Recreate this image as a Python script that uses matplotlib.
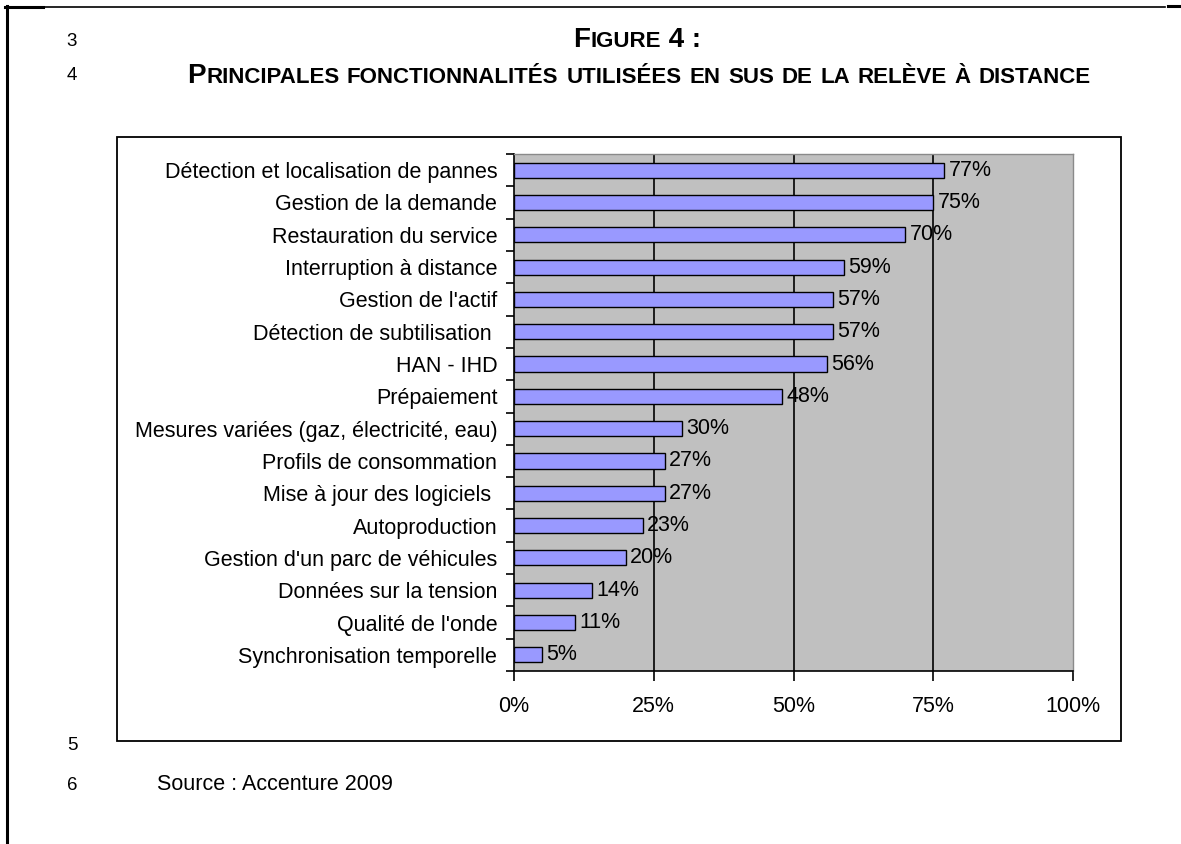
import matplotlib.pyplot as plt
from matplotlib.lines import Line2D
from matplotlib.patches import Rectangle

plt.rcParams['font.family'] = ['Liberation Sans', 'DejaVu Sans']

####################################
# Données du graphique (de haut en bas)
categories = [
    "Détection et localisation de pannes",
    "Gestion de la demande",
    "Restauration du service",
    "Interruption à distance",
    "Gestion de l'actif",
    "Détection de subtilisation ",
    "HAN - IHD",
    "Prépaiement",
    "Mesures variées (gaz, électricité, eau)",
    "Profils de consommation",
    "Mise à jour des logiciels ",
    "Autoproduction",
    "Gestion d'un parc de véhicules",
    "Données sur la tension",
    "Qualité de l'onde",
    "Synchronisation temporelle",
]
valeurs = [77, 75, 70, 59, 57, 57, 56, 48, 30, 27, 27, 23, 20, 14, 11, 5]
xticks = [0, 25, 50, 75, 100]
xlabels = ["0%", "25%", "50%", "75%", "100%"]

W, H = 1181, 844
fig = plt.figure(figsize=(W / 100, H / 100), dpi=100)
fig.patch.set_facecolor("white")


def fx(px):
    return px / W


def fy(py):
    return 1 - py / H


####################################
# Cadre de la page
fig.add_artist(Line2D([fx(5), fx(1165)], [fy(7), fy(7)], color="black", lw=1.2))
fig.add_artist(Line2D([fx(5), fx(43)], [fy(7), fy(7)], color="black", lw=2.2))
fig.add_artist(Line2D([fx(1168), fx(1181)], [fy(6), fy(6)], color="black", lw=2.2))
fig.add_artist(Line2D([fx(7), fx(7)], [fy(6), fy(844)], color="black", lw=2.2))

# Numéros de ligne
for num, py in [("3", 42), ("4", 75), ("5", 745), ("6", 785)]:
    fig.text(fx(72), fy(py), num, fontsize=13.5, ha="center", va="center")

fig.text(fx(157), fy(785), "Source : Accenture 2009", fontsize=15.5, ha="left",
         va="center")

####################################
# Titre en petites capitales
renderer = fig.canvas.get_renderer()


def largeur(s, size):
    t1 = fig.text(0, 0, "|" + s + "|", fontsize=size, weight="bold")
    t2 = fig.text(0, 0, "||", fontsize=size, weight="bold")
    w = t1.get_window_extent(renderer).width - t2.get_window_extent(renderer).width
    t1.remove()
    t2.remove()
    return w


def petites_caps(texte, xc, py, grand, petit):
    runs = []
    for ch in texte:
        size = petit if ch.islower() else grand
        if runs and runs[-1][1] == size:
            runs[-1][0] += ch.upper()
        else:
            runs.append([ch.upper(), size])
    widths = [largeur(s, size) for s, size in runs]
    x = xc - sum(widths) / 2
    for (s, size), w in zip(runs, widths):
        fig.text(fx(x), fy(py), s, fontsize=size, weight="bold", ha="left",
                 va="baseline")
        x += w


petites_caps("Figure 4 :", 637, 47, 20, 16)
petites_caps("Principales fonctionnalités utilisées en sus de la relève à distance",
             639, 83, 20, 16)

####################################
# Cadre du graphique
fig.add_artist(Rectangle((fx(117), fy(741)), fx(1121) - fx(117), fy(137) - fy(741),
                         transform=fig.transFigure, fill=False, edgecolor="black", lw=1.3))

ax = fig.add_axes([fx(514), fy(671), fx(1073) - fx(514), fy(154) - fy(671)])
ax.set_facecolor("#C0C0C0")

y = list(range(len(categories)))
barres = ax.barh(y, valeurs, height=0.47, color="#9999FF", edgecolor="black", lw=1.0,
                 zorder=3)
ax.bar_label(barres, labels=[f"{v}%" for v in valeurs], padding=3, fontsize=15.5,
             zorder=4)

ax.set_xlim(0, 100)
ax.set_ylim(len(categories) - 0.5, -0.5)
ax.set_xticks(xticks)
ax.set_xticklabels(xlabels, fontsize=15.5)
ax.set_yticks(y)
ax.set_yticklabels(categories, fontsize=15.5)
ax.set_yticks([i - 0.5 for i in range(len(categories) + 1)], minor=True)
ax.tick_params(axis="y", which="major", length=0, pad=12)
ax.tick_params(axis="y", which="minor", length=6, width=1.2, direction="out")
ax.tick_params(axis="x", length=7, width=1.2, direction="out", pad=11)

ax.grid(axis="x", color="black", lw=1.2, zorder=1)
ax.set_axisbelow(True)
ax.xaxis.get_gridlines()[-1].set_visible(False)
ax.xaxis.get_gridlines()[0].set_visible(False)

for s in ["left", "bottom"]:
    ax.spines[s].set_color("black")
    ax.spines[s].set_linewidth(1.2)
for s in ["top", "right"]:
    ax.spines[s].set_color("#8A8A8A")
    ax.spines[s].set_linewidth(1.0)

fig.savefig("out.png", dpi=100)
